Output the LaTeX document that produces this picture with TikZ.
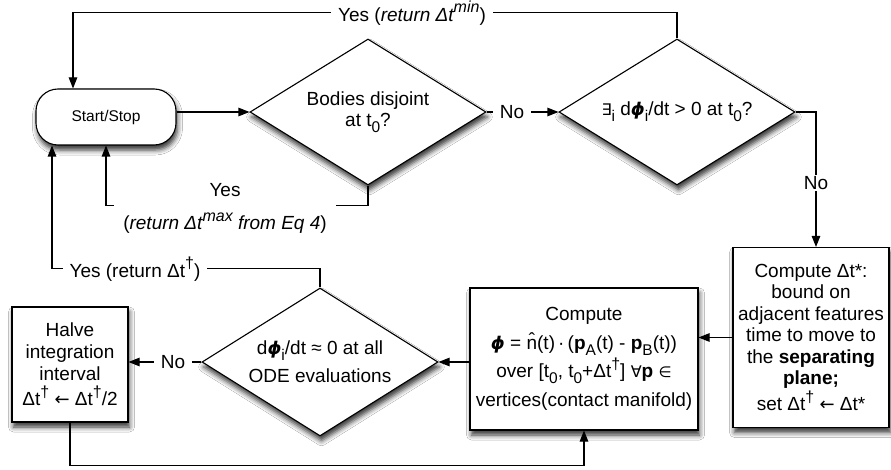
\documentclass[tikz,border=0pt]{standalone}
\usepackage{fontspec}
\setmainfont{Liberation Sans}
\newfontfamily\sym{DejaVu Sans}
\usetikzlibrary{shapes.geometric,arrows.meta,shadows.blur}
\newcommand\fs{\fontsize{19}{21.5}\selectfont}
\newcommand\dn[1]{\raisebox{-0.32em}{\fontsize{15.5}{15.5}\selectfont #1}}
\newcommand\up[1]{\raisebox{0.45em}{\fontsize{16}{16}\selectfont #1}}
\newcommand\bphi{{\sym\bfseries\itshape\fontsize{17.5}{17.5}\selectfont ϕ}}
\newcommand\dg{\up{†}}
\newcommand\la{{\sym\fontsize{18}{18}\selectfont ←}}
\begin{document}
\begin{tikzpicture}[x=1pt,y=-1pt,
  base/.style={draw, line width=1.1pt, fill=white, align=center, font=\fs,
    blur shadow={shadow xshift=1.5pt, shadow yshift=-5pt, shadow blur radius=5pt, shadow opacity=80}},
  dia/.style={base, diamond, aspect=1.6, inner sep=0pt, minimum width=236pt, minimum height=146pt},
  box/.style={base, rectangle, inner sep=0pt},
  arr/.style={line width=1.1pt, -{Triangle[length=11pt,width=8.5pt]}},
  lbl/.style={fill=white, inner xsep=7pt, inner ysep=1pt, font=\fs, align=center}]
\fill[white] (0,0) rectangle (891,470);
\useasboundingbox (0,0) rectangle (891,470);
% nodes
\node[box, rounded corners=22pt, minimum width=140pt, minimum height=56pt, font=\fontsize{15.5}{18}\selectfont] (start) at (106,117) {Start/Stop};
\node[dia] (d1) at (368,112) {Bodies disjoint\\at t\dn{0}?};
\node[dia] (d2) at (677,112) {{\sym\fontsize{16}{16}\selectfont∃}\dn{i} d\bphi\dn{i}/dt > 0 at t\dn{0}?};
\node[dia, minimum height=148pt, font=\fontsize{19}{28}\selectfont] (d3) at (320,362) {d\bphi\dn{i}/dt ≈ 0 at all\\ODE evaluations};
\node[box, minimum width=156pt, minimum height=180pt] (dts) at (811,337.5) {Compute Δt*:\\bound on\\adjacent features\\time to move to\\the \textbf{separating}\\\textbf{plane;}\\[1pt]set Δt\dg\ \la\ Δt*};
\node[box, minimum width=228pt, minimum height=142pt, font=\fontsize{19}{28.5}\selectfont] (comp) at (584,359) {Compute\\\bphi\ = \^{n}(t)\,·\,(\textbf{p}\dn{A}(t) - \textbf{p}\dn{B}(t))\\over [t\dn{0}, t\dn{0}+Δt\dg] {\sym\fontsize{16}{16}\selectfont∀}\textbf{p} {\sym\fontsize{15}{15}\selectfont∈}\\vertices(contact manifold)};
\node[box, minimum width=116pt, minimum height=115pt, font=\fontsize{19}{22}\selectfont] (halve) at (70,364.5) {Halve\\integration\\interval\\[3pt]Δt\dg\ \la\ Δt\dg/2};
% connectors
\draw[arr] (start.east |- d1.west) -- (d1.west);
\draw[arr] (d1.east) -- (d2.west);
\draw[arr] (d2.north) -- ++(0,-26) -| ([xshift=-33pt]start.north);
\draw[arr] (d1.south) -- ++(0,20) -| (start.south);
\draw[arr] (d2.east) -| ([xshift=5pt]dts.north);
\draw[arr] (dts.west) -- (dts.west -| comp.east);
\draw[arr] (d3.east -| comp.west) -- (d3.east);
\draw[arr] (d3.west) -- (halve.east |- d3.west);
\draw[arr] (halve.south) -- ++(0,43) -| (comp.south);
\draw[arr] (d3.north) -- ++(0,-19) -| ([xshift=-54pt]start.south);
% labels
\node[lbl] (l1) at (412,13) {Yes (\textit{return Δt\up{min}})};
\node[lbl] (l2) at (512,112) {No};
\node[lbl, inner xsep=9pt, font=\fontsize{19}{33}\selectfont] (l3) at (225,208.5) {Yes\\(\textit{return Δt\up{max} from Eq 4})};
\node[lbl] (l4) at (816,183) {No};
\node[lbl] (l5) at (135,269) {Yes (return Δt\dg)};
\node[lbl] (l6) at (173,362) {No};
\end{tikzpicture}
\end{document}
